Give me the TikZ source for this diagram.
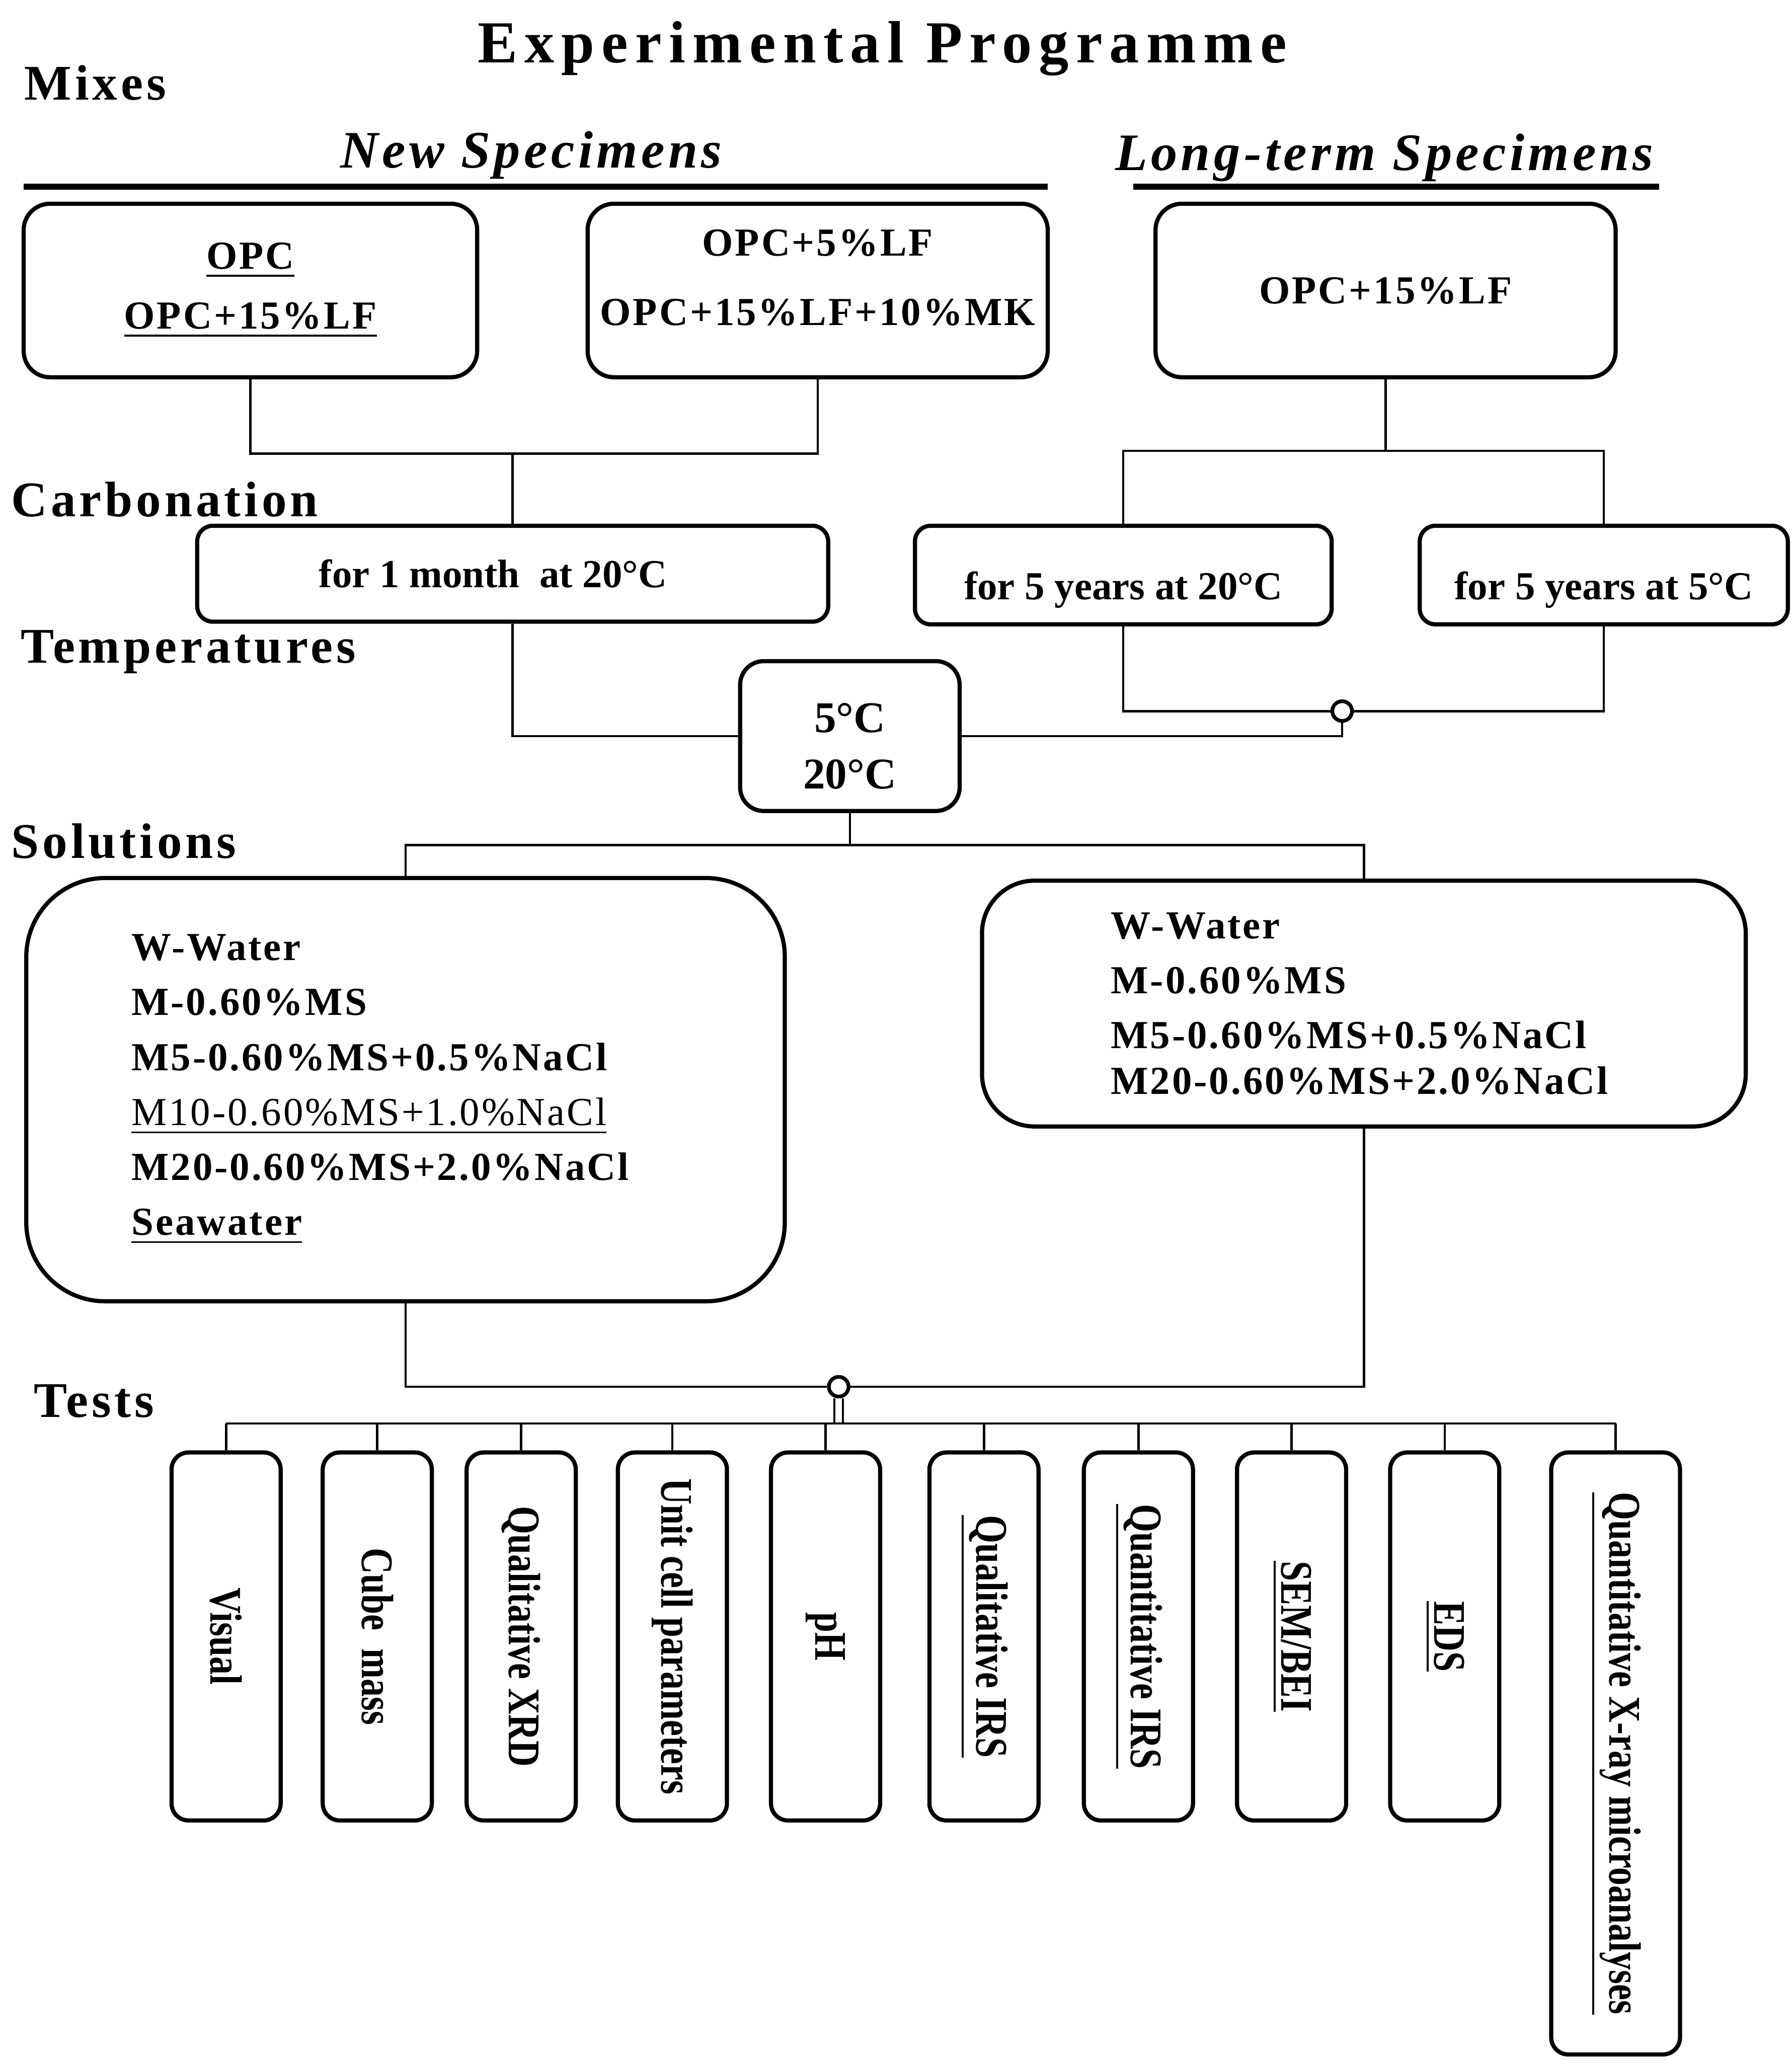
\documentclass[tikz,border=0pt]{standalone}
\usepackage{fontspec}
\setmainfont{Liberation Serif}
\newfontfamily\titlefont[LetterSpace=12]{Liberation Serif}
\newfontfamily\headfont[LetterSpace=7]{Liberation Serif}
\newfontfamily\boxfont[LetterSpace=5]{Liberation Serif}
\newfontfamily\testfont[FakeStretch=0.8]{Liberation Serif}
\usepackage{tikz}
\usetikzlibrary{positioning}

\tikzset{
  box/.style={draw, line width=0.9pt, rounded corners=0.2cm, inner sep=0pt, align=center,
    font=\boxfont\bfseries\fontsize{8.6}{12}\selectfont},
  carbbox/.style={box, rounded corners=0.12cm, font=\bfseries\fontsize{8.6}{12}\selectfont},
  testbox/.style={draw, line width=0.9pt, rounded corners=0.13cm, inner sep=0pt,
    minimum width=0.83cm, minimum height=2.80cm, font=\testfont\bfseries\fontsize{9.8}{12}\selectfont},
  heading/.style={anchor=west, inner sep=0pt, font=\headfont\bfseries\fontsize{10.8}{13}\selectfont},
  subhead/.style={inner sep=0pt, font=\headfont\bfseries\itshape\fontsize{11.4}{14}\selectfont},
  link/.style={line width=0.5pt},
  rule/.style={line width=1.3pt},
  hop/.style={circle, draw, line width=0.8pt, fill=white, minimum size=0.15cm, inner sep=0pt},
}

\begin{document}
\begin{tikzpicture}
\useasboundingbox (0,0) rectangle (13.63,-15.68);

% headings
\node (title) at (6.71,-0.37) [inner sep=0pt, font=\titlefont\bfseries\fontsize{12.9}{15}\selectfont] {Experimental Programme};
\node (mixes) at (0.18,-0.63) [heading] {Mixes};
\node (newsp) at (4.04,-1.18) [subhead] {New Specimens};
\node (longsp) at (10.53,-1.20) [subhead] {Long-term Specimens};
\draw[rule] (0.18,-1.42) -- (7.97,-1.42);
\draw[rule] (8.62,-1.42) -- (12.62,-1.42);
\node (carbhd) at (0.08,-3.80) [heading] {Carbonation};
\node (temphd) at (0.15,-4.96) [heading] {Temperatures};
\node (solhd) at (0.08,-6.40) [heading] {Solutions};
\node (testhd) at (0.25,-10.66) [heading] {Tests};

% mixes
\node (mixA) at (1.905,-2.21) [box, minimum width=3.45cm, minimum height=1.32cm]
  {\underline{OPC}\\[1pt]\underline{OPC+15\%LF}};
\node (mixB) at (6.22,-2.21) [box, minimum width=3.50cm, minimum height=1.32cm]
  {OPC+5\%LF\\[3pt]OPC+15\%LF+10\%MK\\[-10pt]\strut};
\node (mixC) at (10.54,-2.21) [box, minimum width=3.50cm, minimum height=1.32cm] {OPC+15\%LF};

% carbonation
\node (carbA) at (3.90,-4.365) [carbbox, minimum width=4.80cm, minimum height=0.73cm] {for 1 month~~at 20°C\hspace{0.3cm}};
\node (carbB) at (8.545,-4.375) [carbbox, minimum width=3.17cm, minimum height=0.75cm] {\strut\\[-8pt]for 5 years at 20°C};
\node (carbC) at (12.20,-4.375) [carbbox, minimum width=2.80cm, minimum height=0.75cm] {\strut\\[-8pt]for 5 years at 5°C};

% temperatures
\node (temp) at (6.465,-5.60) [box, rounded corners=0.18cm, minimum width=1.67cm, minimum height=1.14cm,
  font=\bfseries\fontsize{9.5}{12.2}\selectfont] {\strut\\[-10pt]5°C\\20°C};

% solutions
\node (solA) at (3.085,-8.29) [box, rounded corners=0.6cm, minimum width=5.77cm, minimum height=3.22cm,
  inner xsep=0.8cm, text width=4.17cm, align=left, font=\boxfont\bfseries\fontsize{8.6}{11.9}\selectfont]
  {W-Water\\M-0.60\%MS\\M5-0.60\%MS+0.5\%NaCl\\{\mdseries\underline{M10-0.60\%MS+1.0\%NaCl}}\\M20-0.60\%MS+2.0\%NaCl\\\underline{Seawater}};
\node (solB) at (10.375,-7.635) [box, rounded corners=0.4cm, minimum width=5.81cm, minimum height=1.87cm,
  inner xsep=0.98cm, text width=3.85cm, align=left, font=\boxfont\bfseries\fontsize{8.6}{11.9}\selectfont]
  {W-Water\\M-0.60\%MS\\M5-0.60\%MS+0.5\%NaCl\\[-2pt]M20-0.60\%MS+2.0\%NaCl};

% tests
\foreach \x/\n/\txt in {1.72/t1/{Visual}, 2.87/t2/{Cube~~mass}, 3.965/t3/{Qualitative XRD},
    5.115/t4/{Unit cell parameters}, 6.28/t5/{pH}, 7.485/t6/{\underline{Qualitative IRS}},
    8.66/t7/{\underline{Quantitative IRS}}, 9.825/t8/{\underline{SEM/BEI}}, 10.99/t9/{\underline{EDS}}}
  \node (\n) at (\x,-12.45) [testbox] {\rotatebox{-90}{\txt}};
\node (t10) at (12.29,-13.34) [testbox, minimum width=0.98cm, minimum height=4.58cm]
  {\rotatebox{-90}{\underline{Quantitative X-ray microanalyses}}};

% junctions
\coordinate (j1) at (3.90,-3.45);
\coordinate (j2) at (10.54,-3.43);
\coordinate (j3) at (6.465,-6.43);
\node (hop1) at (10.21,-5.41) [hop] {};
\node (hop2) at (6.38,-10.55) [hop] {};
\coordinate (bus) at (6.38,-10.83);

% connectors
\draw[link] (mixA.south) |- (j1) -| (mixB.south);
\draw[link] (j1) -- (carbA.north);
\draw[link] (mixC.south) -- (j2);
\draw[link] (carbB.north) |- (j2) -| (carbC.north);
\draw[link] (carbA.south) |- (temp.west);
\draw[link] (carbB.south) |- (hop1.west);
\draw[link] (hop1.east) -| (carbC.south);
\draw[link] (temp.east) -| (hop1.south);
\draw[link] (temp.south) -- (j3);
\draw[link] (solA.north) |- (j3) -| (solB.north);
\draw[link] (solA.south) |- (hop2.west);
\draw[link] (hop2.east) -| (solB.south);
\draw[line width=0.4pt, double, double distance=0.05cm] (hop2.south) -- (bus);
\draw[link] (t1.north |- bus) -- (t10.north |- bus);
\foreach \n in {t1,t2,t3,t4,t5,t6,t7,t8,t9,t10}
  \draw[link] (\n.north) -- (\n.north |- bus);
\end{tikzpicture}
\end{document}
